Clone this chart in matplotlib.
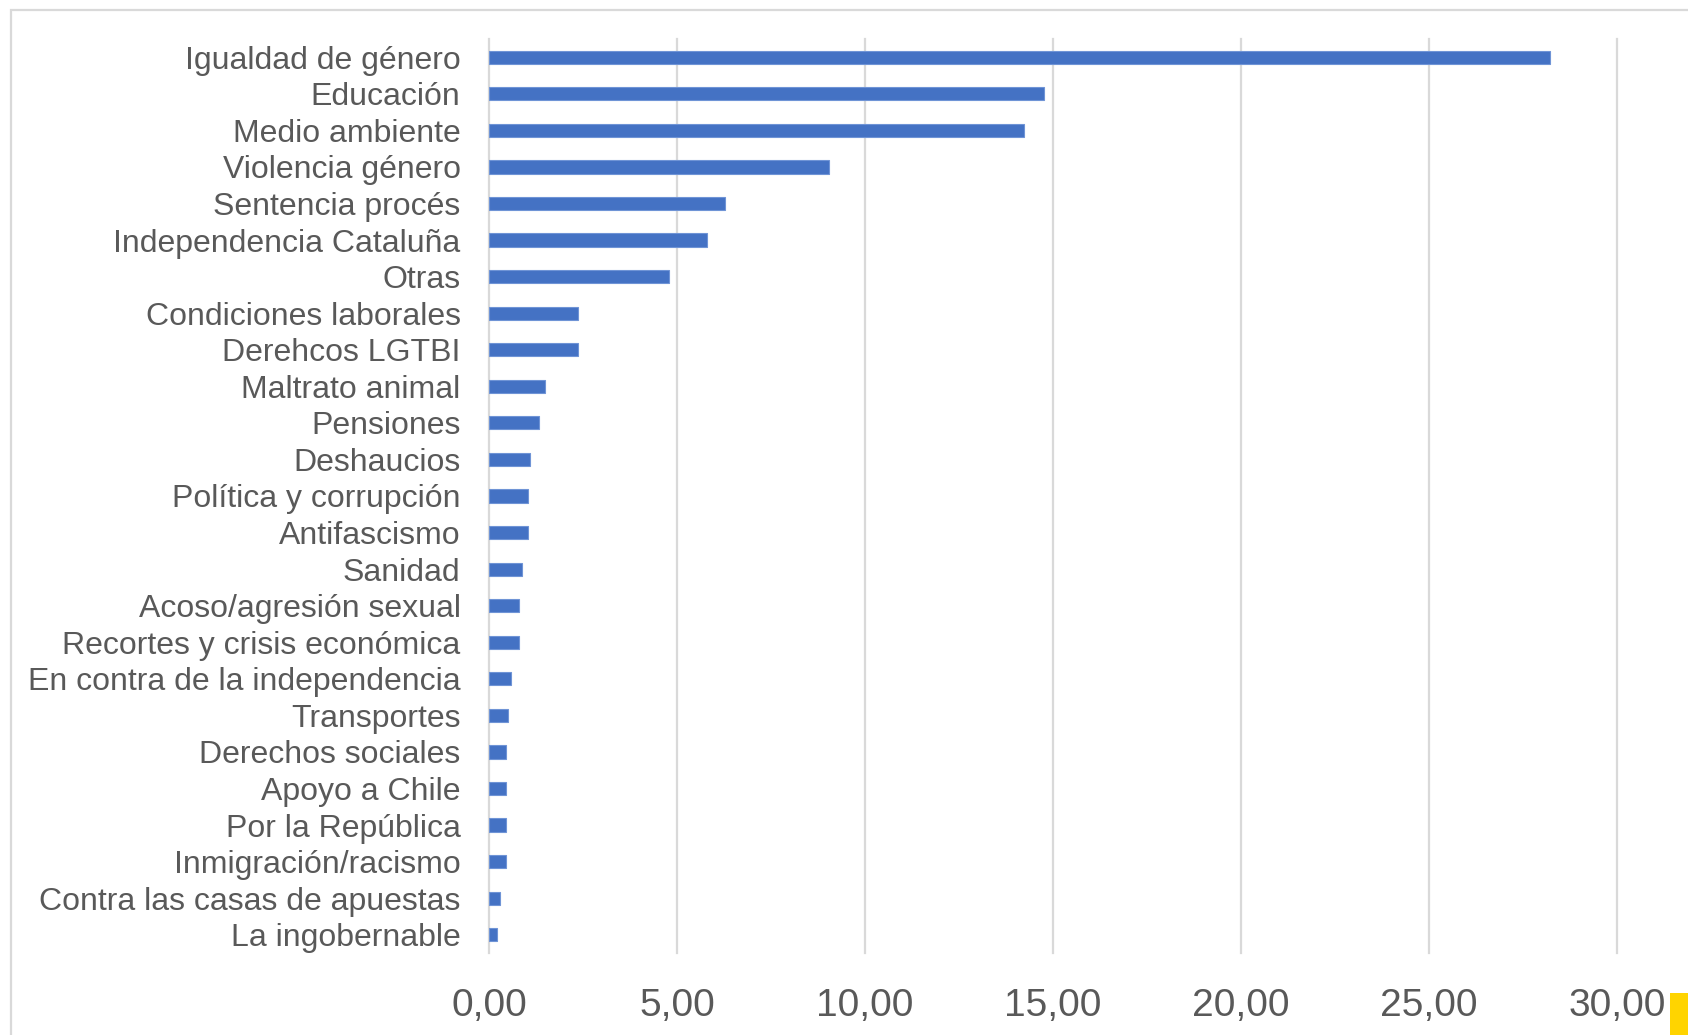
import matplotlib
matplotlib.use("Agg")
import matplotlib.pyplot as plt
from matplotlib.patches import Rectangle

categories = [
    "Igualdad de género", "Educación", "Medio ambiente", "Violencia género",
    "Sentencia procés", "Independencia Cataluña", "Otras", "Condiciones laborales",
    "Derehcos LGTBI", "Maltrato animal", "Pensiones", "Deshaucios",
    "Política y corrupción", "Antifascismo", "Sanidad", "Acoso/agresión sexual",
    "Recortes y crisis económica", "En contra de la independencia", "Transportes",
    "Derechos sociales", "Apoyo a Chile", "Por la República", "Inmigración/racismo",
    "Contra las casas de apuestas", "La ingobernable",
]
values = [28.23, 14.75, 14.22, 9.05, 6.28, 5.81, 4.78, 2.38, 2.38, 1.48, 1.33,
          1.10, 1.03, 1.03, 0.88, 0.81, 0.81, 0.58, 0.51, 0.44, 0.44, 0.44,
          0.44, 0.28, 0.20]
xticks = [0, 5, 10, 15, 20, 25, 30]
xticklabels = ["0,00", "5,00", "10,00", "15,00", "20,00", "25,00", "30,00"]

plt.rcParams['font.family'] = ['Liberation Sans', 'DejaVu Sans']

fig = plt.figure(figsize=(16.88, 10.35), dpi=100)
# outer frame
fig.patches.append(Rectangle((11/1688, -0.1), 1.2, (1035-10)/1035 + 0.1,
                             transform=fig.transFigure, fill=False,
                             edgecolor='#d9d9d9', linewidth=1.6))
# yellow corner mark
fig.patches.append(Rectangle((1670/1688, 0), 18/1688, 42/1035,
                             transform=fig.transFigure, facecolor='#FFD400',
                             edgecolor='none'))

ax = fig.add_axes([489/1688, 82/1035, (1617-489)/1688, (996-82)/1035])
y = list(range(len(categories)))
ax.barh(y, values, height=0.36, color='#4472C4', edgecolor='#6f94d6', linewidth=0.8, zorder=3)
ax.set_ylim(len(categories) - 0.5, -0.5)
ax.set_xlim(0, 30)
ax.set_yticks(y)
ax.set_yticklabels(categories, fontsize=23, color='#595959')
ax.set_xticks(xticks)
ax.set_xticklabels(xticklabels, fontsize=28, color='#595959')
ax.tick_params(axis='both', length=0)
ax.tick_params(axis='y', pad=20.5)
ax.tick_params(axis='x', pad=25)
for s in ax.spines.values():
    s.set_visible(False)
for xt in xticks:
    ax.axvline(xt, color='#d9d9d9', linewidth=1.6, zorder=1, clip_on=False)

fig.savefig("out.png", dpi=100)
